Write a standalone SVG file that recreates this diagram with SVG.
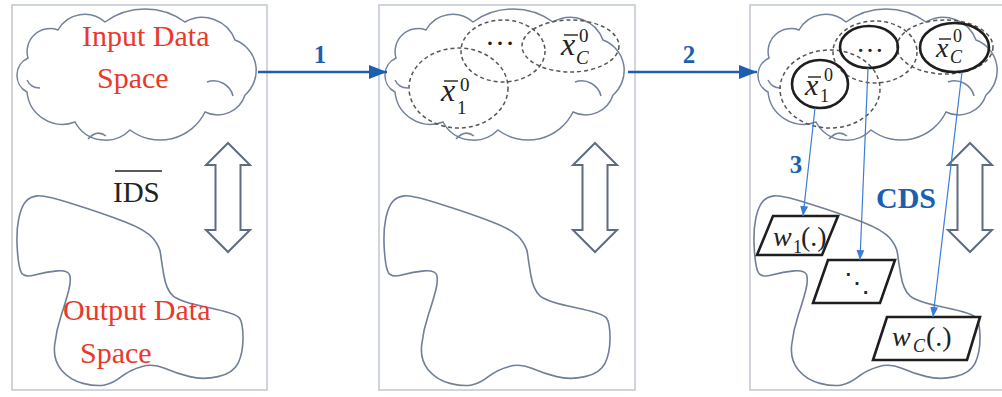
<svg xmlns="http://www.w3.org/2000/svg" width="1002" height="397" viewBox="0 0 1002 397">
<style>
.panel{fill:#fff;stroke:#c3cad5;stroke-width:1.6}
.cloud{fill:#fff;stroke:#72829c;stroke-width:1.5}
.crease{fill:none;stroke:#72829c;stroke-width:1.5}
.blob{fill:none;stroke:#6f7f98;stroke-width:1.6}
.dbl{fill:#fff;stroke:#5e6c82;stroke-width:2;stroke-linejoin:miter}
.red{font-family:"Liberation Serif","Times New Roman",serif;font-size:30px;fill:#e8392b}
.num{font-family:"Liberation Serif","Times New Roman",serif;font-weight:bold;fill:#1e5eae}
.mi{font-family:"Liberation Serif","Times New Roman",serif;font-style:italic;fill:#222}
.mr{font-family:"Liberation Serif","Times New Roman",serif;fill:#222}
.bar{stroke:#222;stroke-width:1.4}
.dash{fill:none;stroke:#555;stroke-width:1.5;stroke-dasharray:4 3}
.solid{fill:none;stroke:#1e1e1e;stroke-width:2.6}
.para{fill:#fff;stroke:#1e1e1e;stroke-width:2.6;stroke-linejoin:miter}
.big{fill:none;stroke:#1e5eae;stroke-width:2.6}
.thin{fill:none;stroke:#3b7dd8;stroke-width:1.2}
</style>
<defs>
<marker id="ahBig" viewBox="0 0 18 14" markerWidth="18" markerHeight="14" refX="18" refY="7" orient="auto" markerUnits="userSpaceOnUse"><path d="M0,0 L18,7 L0,14 Z" fill="#1e5eae"/></marker>
<marker id="ahSmall" viewBox="0 0 10 8" markerWidth="10" markerHeight="8" refX="10" refY="4" orient="auto" markerUnits="userSpaceOnUse"><path d="M0,0 L10,4 L0,8 Z" fill="#3b7dd8"/></marker>
<g id="cloudShape">
<path class="cloud" d="M27,92 A19,19 0 0 1 28,58 A23,23 0 0 1 58,30 A30.5,30.5 0 0 1 105,22 A68,68 0 0 1 185,22 A35,35 0 0 1 235,40 A32.5,32.5 0 0 1 245,95 A28.7,28.7 0 0 1 205,112 A50,50 0 0 1 130,130 A34.6,34.6 0 0 1 75,122 A35.6,35.6 0 0 1 27,92 Z"/>
<path class="crease" d="M207,82 A20,20 0 0 1 233,96"/>
<path class="crease" d="M88,139 Q97,129 106,136"/>
<path class="crease" d="M40,88 A14,14 0 0 1 27,80"/>
</g>
<path id="blobShape" class="blob" d="M25.5,201.7 Q29.7,196.7 37.2,195.85 Q44.7,195 73.85,204.15 Q103,213.3 124.65,221.65 Q146.3,230 153,238.35 Q159.7,246.7 160.5,253.35 Q161.3,260 163.8,275 Q166.3,290 173,295.85 Q179.7,301.7 208,307.5 Q236.3,313.3 239.65,318.3 Q243,323.3 243,338.3 Q243,353.3 238,363.3 Q233,373.3 218,376.65 Q203,380 189.65,376.65 Q176.3,373.3 164.65,368.3 Q153,363.3 141.35,366.65 Q129.7,370 121.35,376.65 Q113,383.3 104.65,385 Q96.3,386.7 83,383.35 Q69.7,380 61.35,370 Q53,360 54.65,345 Q56.3,330 61.3,315 Q66.3,300 68.8,290 Q71.3,280 69.65,275 Q68,270 57.15,270.85 Q46.3,271.7 34.65,275 Q23,278.3 20.5,270.8 Q18,263.3 17.15,246.65 Q16.3,230 18.8,218.35 Q21.3,206.7 25.5,201.7 Z"/>
<path id="dblArrow" class="dbl" d="M0,143 L22,165 L12.5,165 L12.5,230 L22,230 L0,252 L-22,230 L-12.5,230 L-12.5,165 L-22,165 Z"/>
</defs>

<g id="panel1">
<rect class="panel" x="12" y="5" width="255" height="385"/>
<use href="#cloudShape"/>
<text class="red" x="82" y="46">Input Data</text>
<text class="red" x="97" y="88">Space</text>
<use href="#dblArrow" transform="translate(228,0)"/>
<line class="bar" x1="115" y1="171" x2="162" y2="171"/>
<text class="mr" x="113" y="202" font-size="29">IDS</text>
<use href="#blobShape"/>
<text class="red" x="63" y="320">Output Data</text>
<text class="red" x="80" y="363">Space</text>
</g>

<g id="panel2">
<rect class="panel" x="379" y="5" width="256" height="385"/>
<use href="#cloudShape" transform="translate(368,0)"/>
<ellipse class="dash" cx="458.5" cy="88" rx="49.5" ry="40"/>
<ellipse class="dash" cx="503" cy="51" rx="42" ry="31"/>
<ellipse class="dash" cx="570.5" cy="46" rx="48.5" ry="26"/>
<text class="mr" x="500" y="45" font-size="30" text-anchor="middle">…</text>
<text class="mi" x="441" y="101" font-size="32">x</text>
<line class="bar" x1="444" y1="81" x2="458" y2="81"/>
<text class="mr" x="460" y="91" font-size="19">0</text>
<text class="mr" x="457" y="114" font-size="19">1</text>
<text class="mi" x="561" y="55" font-size="32">x</text>
<line class="bar" x1="564" y1="35" x2="578" y2="35"/>
<text class="mr" x="579" y="42" font-size="19">0</text>
<text class="mi" x="576" y="64" font-size="19">C</text>
<use href="#dblArrow" transform="translate(595,0)"/>
<use href="#blobShape" transform="translate(367,0)"/>
</g>

<g id="panel3">
<rect class="panel" x="750" y="5" width="260" height="385"/>
<use href="#cloudShape" transform="translate(741,0)"/>
<ellipse class="dash" cx="830" cy="89" rx="50" ry="39"/>
<ellipse class="dash" cx="875" cy="52" rx="42" ry="31"/>
<ellipse class="dash" cx="945" cy="47" rx="48" ry="27"/>
<ellipse class="solid" cx="820" cy="84" rx="28" ry="24"/>
<ellipse class="solid" cx="869" cy="47" rx="29" ry="21"/>
<ellipse class="solid" cx="954.5" cy="47.5" rx="34.5" ry="24.5"/>
<text class="mr" x="870" y="52" font-size="28" text-anchor="middle">…</text>
<text class="mi" x="805" y="95" font-size="30">x</text>
<line class="bar" x1="808" y1="77" x2="821" y2="77"/>
<text class="mr" x="824" y="81" font-size="18">0</text>
<text class="mr" x="820" y="102" font-size="18">1</text>
<text class="mi" x="936" y="57" font-size="28">x</text>
<line class="bar" x1="939" y1="39" x2="951" y2="39"/>
<text class="mr" x="953" y="42" font-size="18">0</text>
<text class="mi" x="950" y="63" font-size="18">C</text>
<use href="#dblArrow" transform="translate(970,0)"/>
<use href="#blobShape" transform="translate(737,0)"/>
<text class="num" x="876" y="208" font-size="30">CDS</text>
</g>

<g id="w1">
<path class="para" d="M773,216 L838,216 L822,255 L757,255 Z"/>
<text class="mi" x="773" y="246" font-size="28">w</text>
<text class="mr" x="793" y="253" font-size="18">1</text>
<text class="mr" x="801" y="246" font-size="28">(.)</text>
</g>
<g id="wdots">
<path class="para" d="M828,260 L895,260 L880,303 L813,303 Z"/>
<text class="mr" x="857" y="292" font-size="26" text-anchor="middle" font-family="'DejaVu Serif',serif">⋱</text>
</g>
<g id="wC">
<path class="para" d="M887,317 L980,317 L967,360 L873,360 Z"/>
<text class="mi" x="892" y="346" font-size="28">w</text>
<text class="mi" x="913" y="352" font-size="18">C</text>
<text class="mr" x="926" y="346" font-size="28">(.)</text>
</g>

<g id="connectors">
<line class="big" x1="258" y1="72" x2="387" y2="72" marker-end="url(#ahBig)"/>
<text class="num" x="320" y="63" font-size="25" text-anchor="middle">1</text>
<line class="big" x1="628" y1="72" x2="757" y2="72" marker-end="url(#ahBig)"/>
<text class="num" x="689" y="63" font-size="25" text-anchor="middle">2</text>
<line class="thin" x1="815" y1="108" x2="803" y2="216" marker-end="url(#ahSmall)"/>
<line class="thin" x1="868" y1="68" x2="860" y2="260" marker-end="url(#ahSmall)"/>
<line class="thin" x1="962" y1="72" x2="933" y2="317" marker-end="url(#ahSmall)"/>
<text class="num" x="796" y="173" font-size="25" text-anchor="middle">3</text>
</g>
</svg>
